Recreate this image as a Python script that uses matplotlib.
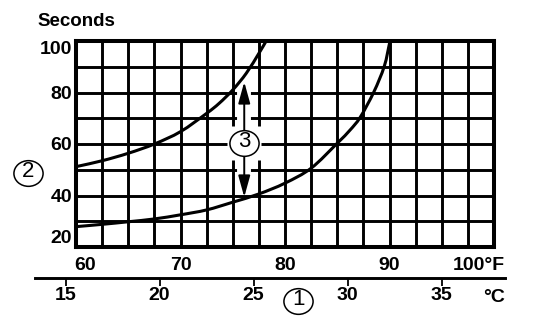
import numpy as np
import matplotlib.pyplot as plt
from matplotlib.path import Path
from matplotlib.patches import PathPatch
from matplotlib.transforms import Affine2D

plt.rcParams['font.family'] = ['Liberation Sans', 'DejaVu Sans']

# === DATA ===
temp_f_upper = [60, 62.5, 65, 67.5, 70, 72.5, 73.7, 75, 76.3, 77.5, 78.2]
secs_upper = [51.2, 53.5, 56.4, 60, 64.8, 71.9, 75.8, 81, 87.5, 95.2, 100]

temp_f_lower = [60, 62.5, 65, 67.5, 70, 72.5, 75, 77.5, 80, 82.5, 85, 86.2, 87.2, 88.5, 89.5, 90.05]
secs_lower = [27.9, 28.8, 29.8, 30.9, 32.5, 34.4, 37.4, 40.6, 44.8, 50.6, 60.3, 65.3, 70.4, 80.2, 90.2, 100]

f_ticks = [60, 70, 80, 90, 100]
f_labels = ['60', '70', '80', '90', '100°F']
s_ticks = [100, 80, 60, 40, 20]
c_ticks = [15, 20, 25, 30, 35]


def smooth_curve(xs, ys):
    # Catmull-Rom through the read points, drawn as cubic Bezier segments
    p = np.column_stack([xs, ys]).astype(float)
    n = len(p)
    tan = np.zeros_like(p)
    tan[1:-1] = (p[2:] - p[:-2]) / 2
    tan[0] = p[1] - p[0]
    tan[-1] = p[-1] - p[-2]
    verts = [p[0]]
    codes = [Path.MOVETO]
    for i in range(n - 1):
        verts += [p[i] + tan[i] / 3, p[i + 1] - tan[i + 1] / 3, p[i + 1]]
        codes += [Path.CURVE4] * 3
    return Path(verts, codes)


# === FIGURE SETUP ===
W, H = 544, 324
fig = plt.figure(figsize=(W / 100, H / 100), dpi=100)
fig.patch.set_facecolor('white')

ax_l, ax_r, ax_t, ax_b = 76, 494, 41, 247
ax = fig.add_axes([ax_l / W, 1 - ax_b / H, (ax_r - ax_l) / W, (ax_b - ax_t) / H])
ax.set_xlim(60, 100)
ax.set_ylim(20, 100)
ax.set_xticks([])
ax.set_yticks([])
for s in ax.spines.values():
    s.set_linewidth(2.9)
    s.set_zorder(4)

# grid
for x in np.arange(62.5, 100, 2.5):
    ax.axvline(x, color='black', lw=2.1, zorder=1)
for y in range(30, 100, 10):
    ax.axhline(y, color='black', lw=2.1, zorder=1)

# curves
for xs, ys in [(temp_f_upper, secs_upper), (temp_f_lower, secs_lower)]:
    ax.add_patch(PathPatch(smooth_curve(xs, ys), fill=False, ec='black', lw=2.2, zorder=5))

# === callout 3 with arrows ===
ell = Path.unit_circle().transformed(Affine2D().scale(1, 0.88))
cx, cy = 76.1, 60.4
ax.plot([cx, cx], [41, 82], color='white', lw=10, solid_capstyle='butt', zorder=2)
ax.plot(cx, cy, marker='s', ms=24.5, color='white', mec='none', zorder=2)
for tip in (84.1, 39.4):
    ax.annotate('', xy=(cx, tip), xytext=(cx, cy),
                arrowprops=dict(arrowstyle='-|>,head_length=1.3,head_width=0.36',
                                color='black', lw=1.4, shrinkA=0, shrinkB=0,
                                mutation_scale=10), zorder=3)
ax.plot(cx, cy, marker=ell, ms=21, mfc='white', mec='black', mew=1.1, zorder=6)
ax.annotate('3', xy=(cx, cy), xytext=(0, 1), textcoords='offset pixels',
            ha='center', va='center', fontsize=16, zorder=7)

# === axis labels ===
for v in s_ticks:
    va = 'top' if v == 100 else ('bottom' if v == 20 else 'center')
    dy = 0 if v in (100, 20) else -2
    ax.annotate(str(v), xy=(60, v), xytext=(-4, dy), textcoords='offset pixels',
                ha='right', va=va, fontsize=14, weight='bold', annotation_clip=False)

for v, lab in zip(f_ticks, f_labels):
    ha, dx = 'center', 0
    if v == 60:
        ha, dx = 'left', -2
    elif v == 100:
        ha, dx = 'right', 11
    ax.annotate(lab, xy=(v, 20), xytext=(dx, -19), textcoords='offset pixels',
                ha=ha, va='center', fontsize=14, weight='bold', annotation_clip=False)

fig.text(37 / W, 1 - 21.5 / H, 'Seconds', ha='left', va='center', fontsize=13.5, weight='bold')

# === Celsius scale ===
c_l, c_r, c_y = 35, 505, 278
cax = fig.add_axes([c_l / W, 1 - c_y / H, (c_r - c_l) / W, 0.0001])
f_at = lambda p: 60 + (p - ax_l) / (ax_r - ax_l) * 40
cax.set_xlim((f_at(c_l) - 32) * 5 / 9, (f_at(c_r) - 32) * 5 / 9)
cax.set_yticks([])
cax.patch.set_visible(False)
for side in ('top', 'left', 'right'):
    cax.spines[side].set_visible(False)
cax.spines['bottom'].set_linewidth(2.1)
cax.set_xticks(c_ticks)
cax.tick_params(axis='x', direction='out', length=6, width=1.3, pad=0.5, labelsize=14)
for t in cax.get_xticklabels():
    t.set_fontweight('bold')
fig.text(494 / W, 1 - 297 / H, '°C', ha='center', va='center', fontsize=14, weight='bold')

# === circled 1 and 2 ===
for (px, py, lab) in [(28, 172.5, '2'), (298, 300.5, '1')]:
    fx, fy = px / W, 1 - py / H
    fig.add_artist(plt.Line2D([fx], [fy], marker=ell, ms=21, mfc='white', mec='black', mew=1.1,
                              transform=fig.transFigure))
    fig.text(fx, fy + 1 / H, lab, ha='center', va='center', fontsize=16)

fig.savefig('out.png', dpi=100, facecolor='white')
